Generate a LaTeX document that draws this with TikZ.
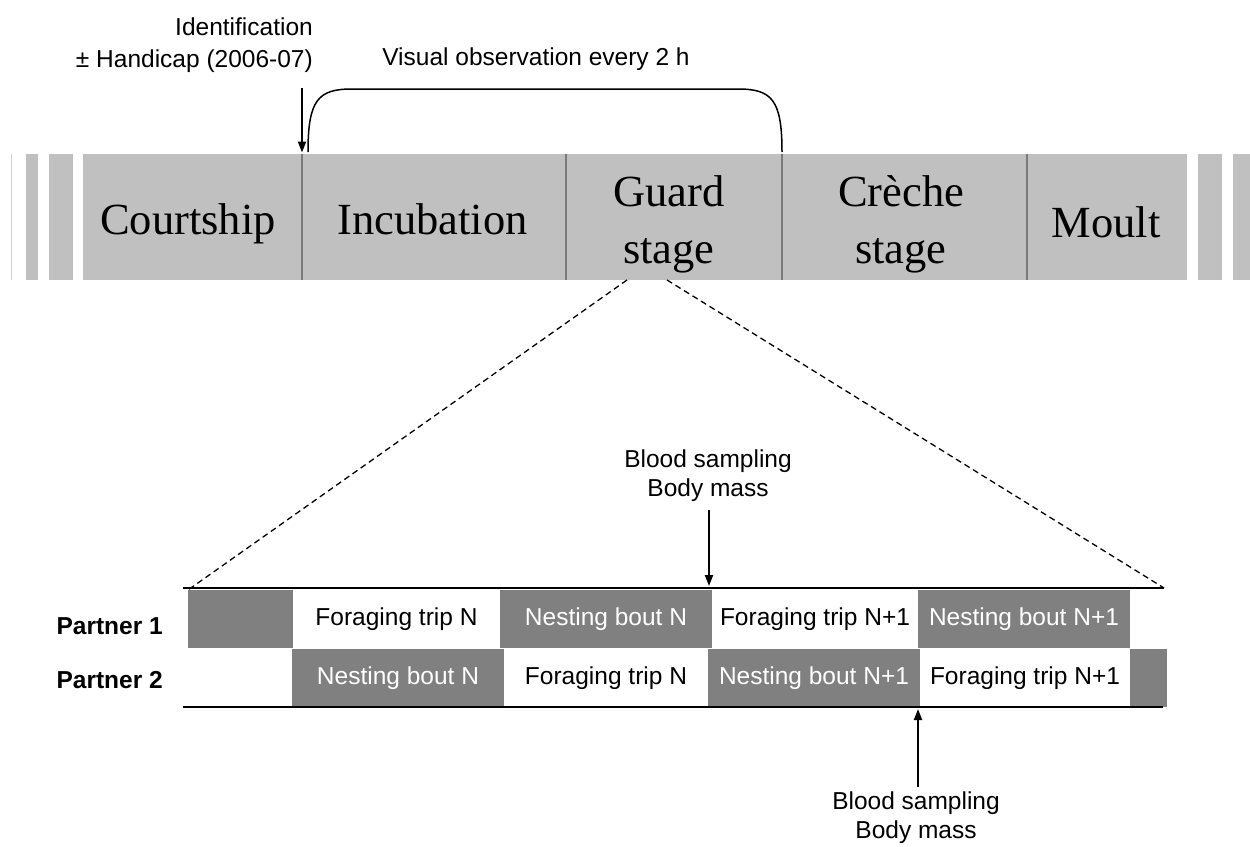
\documentclass[tikz,border=0pt]{standalone}
\usepackage{fontspec}
\setmainfont{Liberation Serif}
\newfontfamily\arialfont{Liberation Sans}
\usetikzlibrary{arrows.meta}
\definecolor{barfill}{HTML}{C0C0C0}
\definecolor{darkfill}{HTML}{808080}
\definecolor{sepline}{HTML}{7A7A7A}
\definecolor{edgeline}{HTML}{CFCFCF}

\begin{document}
\begin{tikzpicture}[x=1pt,y=-1pt,
  stagebox/.style={fill=barfill, draw=none, minimum height=126pt, minimum width=#1pt, inner sep=0pt, outer sep=0pt},
  stripe/.style={fill=barfill, draw=none},
  divider/.style={draw=sepline, line width=2.5pt},
  stagetext/.style={inner sep=0pt, font=\fontsize{44.5}{57}\selectfont, align=center},
  smalltext/.style={inner sep=0pt, font=\arialfont\fontsize{24.5}{29}\selectfont, align=center},
  partner/.style={inner sep=0pt, anchor=base east, font=\arialfont\bfseries\fontsize{24.5}{29}\selectfont},
  darkbox/.style={fill=darkfill, draw=none, minimum height=58pt, minimum width=#1pt, inner sep=0pt, outer sep=0pt,
    text=white, font=\arialfont\fontsize{24.5}{29}\selectfont},
  lightbox/.style={fill=white, draw=none, minimum height=58pt, minimum width=#1pt, inner sep=0pt, outer sep=0pt,
    text=black, font=\arialfont\fontsize{24.5}{29}\selectfont},
  rule/.style={line width=1.8pt},
  arr/.style={line width=2pt, -{Triangle[length=11pt,width=8pt]}},
  bracket/.style={line width=1.5pt},
  zoomline/.style={line width=1.3pt, dash pattern=on 6pt off 4pt}
]
\useasboundingbox (0,0) rectangle (1250,846);

% ---- breeding cycle bar ----
\draw[edgeline, line width=1pt] (11,154) -- (11,280);
\fill[stripe] (26,154) rectangle (38,280);
\fill[stripe] (49,154) rectangle (73,280);
\fill[stripe] (1198,154) rectangle (1222,280);
\fill[stripe] (1233,154) rectangle (1250,280);

\node[stagebox=219] (courtship)  at (192.5,217) {};
\node[stagebox=264] (incubation) at (434,217) {};
\node[stagebox=216] (guard)      at (674,217) {};
\node[stagebox=245] (creche)     at (904.5,217) {};
\node[stagebox=160] (moult)      at (1107,217) {};

\draw[divider] (incubation.north west) -- (incubation.south west);
\draw[divider] (guard.north west) -- (guard.south west);
\draw[divider] (creche.north west) -- (creche.south west);
\draw[divider] (moult.north west) -- (moult.south west);

\node[stagetext, anchor=base] (tcourt) at (188,234) {Courtship};
\node[stagetext, anchor=base] (tincub) at (432.5,234) {Incubation};
\node[stagetext] (tguard) at (669,224) {Guard\\stage};
\node[stagetext] (tcreche) at (901,224) {Crèche\\stage};
\node[stagetext, anchor=base] (tmoult) at (1106,237) {Moult};

% ---- annotations above the bar ----
\node[smalltext, align=right, anchor=east, font=\arialfont\fontsize{24.5}{32}\selectfont]
  (ident) at (313,45.6) {Identification\\± Handicap (2006-07)};
\coordinate (identtop) at (302,88);
\draw[arr, shorten >=1.5pt] (identtop) -- (incubation.north west);

\node[smalltext, anchor=base] (visual) at (536,65) {Visual observation every 2 h};
\coordinate (obsL) at (308,152);
\coordinate (obsR) at (782,152);
\draw[bracket] (obsL) .. controls (308,100) and (318,89) .. (352,89) -- (738,89)
  .. controls (772,89) and (782,100) .. (obsR);

% ---- zoom onto the guard stage ----
\coordinate (zoomL) at (627,280);
\coordinate (zoomR) at (667,280);
\coordinate (tlL) at (183,588);
\coordinate (tlR) at (1164,588);
\coordinate (blL) at (183,707);
\coordinate (blR) at (1163,707);

% ---- partner rows ----
\node[darkbox=105]  (p1a) at (240.5,619) {};
\node[lightbox=207] (p1b) at (396.5,619) {Foraging trip N};
\node[darkbox=212]  (p1c) at (606,619) {Nesting bout N};
\node[lightbox=206] (p1d) at (815,619) {Foraging trip N+1};
\node[darkbox=212]  (p1e) at (1024,619) {Nesting bout N+1};

\node[darkbox=212]  (p2b) at (398,678) {Nesting bout N};
\node[lightbox=204] (p2c) at (606,678) {Foraging trip N};
\node[darkbox=212]  (p2d) at (814,678) {Nesting bout N+1};
\node[lightbox=210] (p2e) at (1025,678) {Foraging trip N+1};
\node[darkbox=37]   (p2f) at (1148.5,678) {};

\draw[rule] (tlL) -- (tlR);
\draw[rule] (blL) -- (blR);

\draw[zoomline] (zoomL) -- (p1a.north west);
\draw[zoomline] (zoomR) -- (tlR);

\node[partner] (partner1) at (163,634) {Partner 1};
\node[partner] (partner2) at (163,688) {Partner 2};

% ---- sampling events ----
\node[smalltext] (bs1) at (708,476) {Blood sampling\\Body mass};
\coordinate (bs1tip) at (709,586);
\draw[arr, shorten <=8pt] (bs1.south -| bs1tip) -- (bs1tip);

\node[smalltext] (bs2) at (916,817.5) {Blood sampling\\Body mass};
\coordinate (bs2tip) at (918,709);
\draw[arr, shorten <=4pt] (bs2.north -| bs2tip) -- (bs2tip);
\end{tikzpicture}
\end{document}
